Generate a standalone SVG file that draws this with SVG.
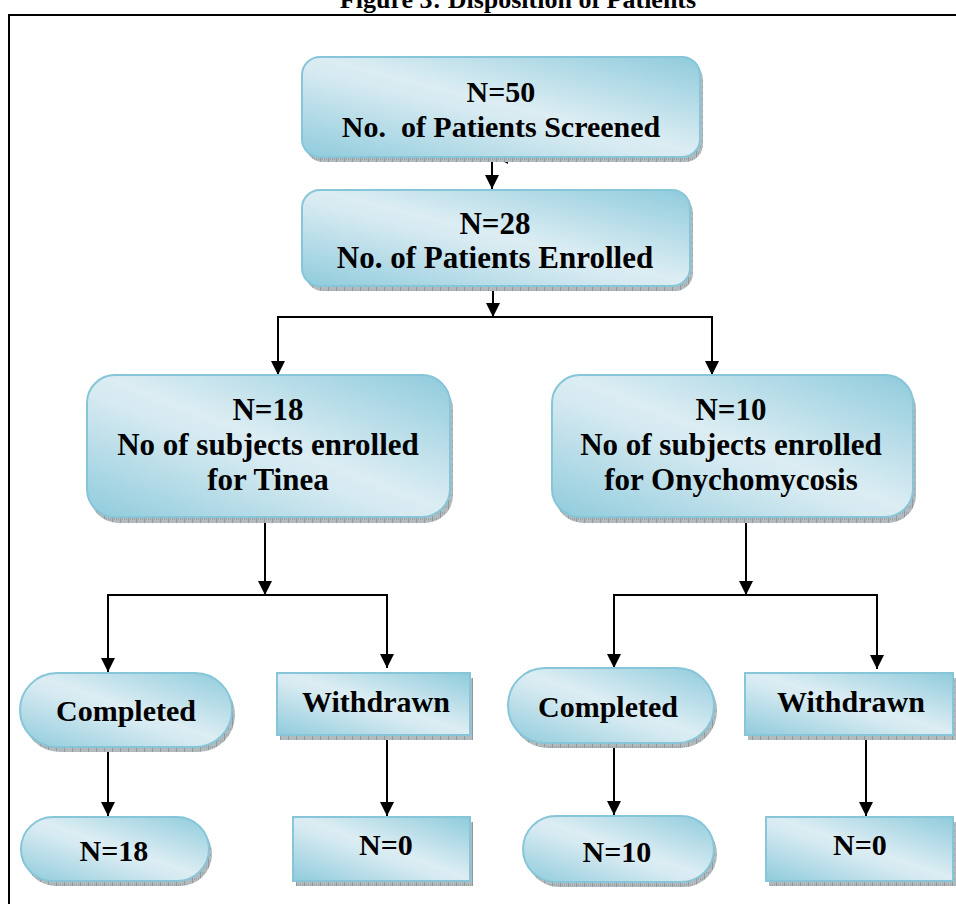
<svg xmlns="http://www.w3.org/2000/svg" width="956" height="904" viewBox="0 0 956 904">
<defs>
<linearGradient id="g" x1="1" y1="0" x2="0" y2="1">
<stop offset="0" stop-color="#8fcbdc"/>
<stop offset="0.48" stop-color="#dcedf3"/>
<stop offset="0.56" stop-color="#d6eaf1"/>
<stop offset="1" stop-color="#8fcbdc"/>
</linearGradient>
<pattern id="hatch" patternUnits="userSpaceOnUse" width="8" height="6">
<rect width="8" height="6" fill="#b2babd"/>
<path d="M0,0V6" stroke="#6f787b" stroke-width="1"/>
<path d="M0,3H8" stroke="#8e979a" stroke-width="1" stroke-dasharray="1,1"/>
</pattern>
<marker id="arr" markerUnits="userSpaceOnUse" markerWidth="14" markerHeight="14" refX="14" refY="7" orient="auto">
<path d="M0,0L14,7L0,14z" fill="#000"/>
</marker>
<style>
.shape{fill:url(#g);stroke:#86c6d8;stroke-width:2}
.shadow{fill:url(#hatch)}
.t{font-family:"Liberation Serif","Times New Roman",serif;font-weight:bold;fill:#000;text-anchor:middle;white-space:pre}
.c{fill:none;stroke:#000;stroke-width:2}
</style>
</defs>
<rect width="956" height="904" fill="#fff"/>
<text class="t" x="518" y="7.5" font-size="26">Figure 3: Disposition of Patients</text>
<path d="M9,904V15H956" fill="none" stroke="#000" stroke-width="2"/>

<g id="connectors">
<path class="c" d="M492,157V189" marker-end="url(#arr)"/>
<polygon points="497,158 508,158 508,164" fill="#000"/>
<path class="c" d="M493,290V317" marker-end="url(#arr)"/>
<path class="c" d="M278,317H712"/>
<path class="c" d="M278,316V375" marker-end="url(#arr)"/>
<path class="c" d="M712,316V375" marker-end="url(#arr)"/>
<path class="c" d="M265,523V595" marker-end="url(#arr)"/>
<path class="c" d="M108,595H387"/>
<path class="c" d="M108,594V672" marker-end="url(#arr)"/>
<path class="c" d="M387,594V668" marker-end="url(#arr)"/>
<path class="c" d="M746,523V595" marker-end="url(#arr)"/>
<path class="c" d="M614,595H877"/>
<path class="c" d="M614,594V668" marker-end="url(#arr)"/>
<path class="c" d="M877,594V669" marker-end="url(#arr)"/>
<path class="c" d="M108,752V816" marker-end="url(#arr)"/>
<path class="c" d="M387,740V816" marker-end="url(#arr)"/>
<path class="c" d="M614,748V815" marker-end="url(#arr)"/>
<path class="c" d="M866,740V816" marker-end="url(#arr)"/>
</g>

<g id="screened">
<rect class="shadow" x="305" y="62" width="398" height="100" rx="18"/>
<rect class="shape" x="302" y="57" width="398" height="100" rx="18"/>
<text class="t" x="501" y="102" font-size="30">N=50</text>
<text class="t" x="501" y="137" font-size="30">No.  of Patients Screened</text>
</g>

<g id="enrolled">
<rect class="shadow" x="305" y="195" width="388" height="96" rx="18"/>
<rect class="shape" x="302" y="190" width="388" height="96" rx="18"/>
<text class="t" x="495" y="234" font-size="31">N=28</text>
<text class="t" x="495" y="268" font-size="31">No. of Patients Enrolled</text>
</g>

<g id="tinea">
<rect class="shadow" x="90" y="381" width="363" height="142" rx="28"/>
<rect class="shape" x="87" y="375" width="363" height="142" rx="28"/>
<text class="t" x="268" y="420" font-size="31">N=18</text>
<text class="t" x="268" y="455" font-size="31">No of subjects enrolled</text>
<text class="t" x="268" y="490" font-size="31">for Tinea</text>
</g>

<g id="onychomycosis">
<rect class="shadow" x="555" y="381" width="361" height="142" rx="28"/>
<rect class="shape" x="552" y="375" width="361" height="142" rx="28"/>
<text class="t" x="731" y="420" font-size="31">N=10</text>
<text class="t" x="731" y="455" font-size="31">No of subjects enrolled</text>
<text class="t" x="731" y="490" font-size="31">for Onychomycosis</text>
</g>

<g id="completed-tinea">
<rect class="shadow" x="23" y="678" width="212" height="74" rx="37"/>
<rect class="shape" x="20" y="673" width="212" height="74" rx="37"/>
<text class="t" x="126" y="721" font-size="30">Completed</text>
</g>

<g id="withdrawn-tinea">
<rect class="shadow" x="280" y="678" width="193" height="62"/>
<rect class="shape" x="277" y="673" width="193" height="62"/>
<text class="t" x="376" y="712" font-size="30">Withdrawn</text>
</g>

<g id="completed-tinea-n">
<rect class="shadow" x="24" y="822" width="188" height="64" rx="32"/>
<rect class="shape" x="21" y="817" width="188" height="64" rx="32"/>
<text class="t" x="114" y="861" font-size="30">N=18</text>
</g>

<g id="withdrawn-tinea-n">
<rect class="shadow" x="296" y="822" width="177" height="64"/>
<rect class="shape" x="293" y="817" width="177" height="64"/>
<text class="t" x="386" y="855" font-size="30">N=0</text>
</g>

<g id="completed-onycho">
<rect class="shadow" x="511" y="673" width="206" height="75" rx="37"/>
<rect class="shape" x="508" y="668" width="206" height="75" rx="37"/>
<text class="t" x="608" y="717" font-size="30">Completed</text>
</g>

<g id="withdrawn-onycho">
<rect class="shadow" x="748" y="678" width="208" height="62"/>
<rect class="shape" x="745" y="673" width="208" height="62"/>
<text class="t" x="851" y="712" font-size="30">Withdrawn</text>
</g>

<g id="completed-onycho-n">
<rect class="shadow" x="526" y="821" width="191" height="66" rx="33"/>
<rect class="shape" x="523" y="816" width="191" height="66" rx="33"/>
<text class="t" x="617" y="862" font-size="30">N=10</text>
</g>

<g id="withdrawn-onycho-n">
<rect class="shadow" x="769" y="822" width="187" height="64"/>
<rect class="shape" x="766" y="817" width="187" height="64"/>
<text class="t" x="860" y="855" font-size="30">N=0</text>
</g>
</svg>
